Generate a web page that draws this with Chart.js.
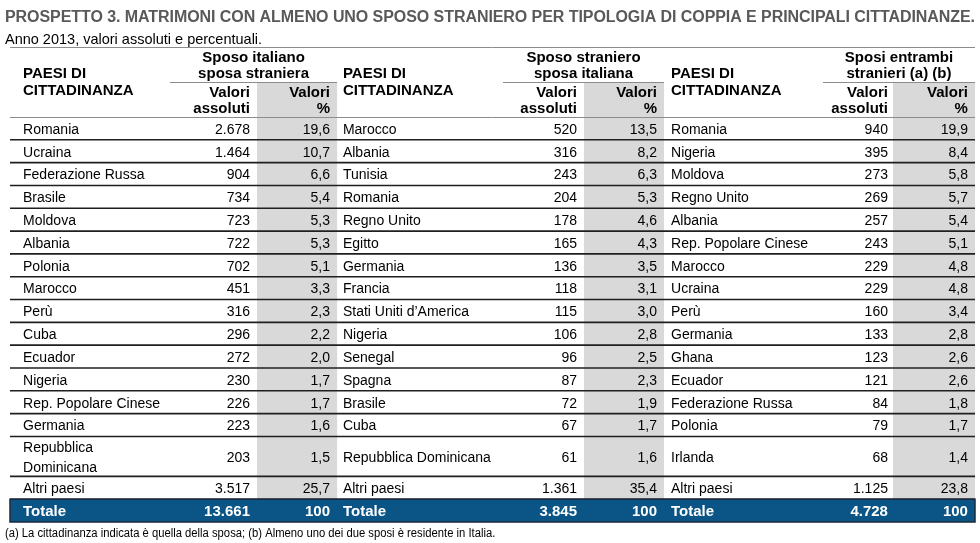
<!DOCTYPE html>
<html>
<head>
<meta charset="utf-8">
<script src="https://cdn.jsdelivr.net/npm/chart.js@4.4.0/dist/chart.umd.min.js"></script>
<style>
  html, body { margin: 0; padding: 0; background: #fff; }
  #wrap { width: 980px; height: 543px; }
</style>
</head>
<body>
<div id="wrap"><canvas id="chart"></canvas></div>
<script>
// dati del prospetto (Anno 2013)
const paesi1 = ["Romania", "Ucraina", "Federazione Russa", "Brasile", "Moldova", "Albania", "Polonia", "Marocco", "Perù", "Cuba", "Ecuador", "Nigeria", "Rep. Popolare Cinese", "Germania", "Repubblica Dominicana", "Altri paesi"];
const assoluti1 = [2678, 1464, 904, 734, 723, 722, 702, 451, 316, 296, 272, 230, 226, 223, 203, 3517];
const perc1 = [19.6, 10.7, 6.6, 5.4, 5.3, 5.3, 5.1, 3.3, 2.3, 2.2, 2.0, 1.7, 1.7, 1.6, 1.5, 25.7];

const paesi2 = ["Marocco", "Albania", "Tunisia", "Romania", "Regno Unito", "Egitto", "Germania", "Francia", "Stati Uniti d’America", "Nigeria", "Senegal", "Spagna", "Brasile", "Cuba", "Repubblica Dominicana", "Altri paesi"];
const assoluti2 = [520, 316, 243, 204, 178, 165, 136, 118, 115, 106, 96, 87, 72, 67, 61, 1361];
const perc2 = [13.5, 8.2, 6.3, 5.3, 4.6, 4.3, 3.5, 3.1, 3.0, 2.8, 2.5, 2.3, 1.9, 1.7, 1.6, 35.4];

const paesi3 = ["Romania", "Nigeria", "Moldova", "Regno Unito", "Albania", "Rep. Popolare Cinese", "Marocco", "Ucraina", "Perù", "Germania", "Ghana", "Ecuador", "Federazione Russa", "Polonia", "Irlanda", "Altri paesi"];
const assoluti3 = [940, 395, 273, 269, 257, 243, 229, 229, 160, 133, 123, 121, 84, 79, 68, 1125];
const perc3 = [19.9, 8.4, 5.8, 5.7, 5.4, 5.1, 4.8, 4.8, 3.4, 2.8, 2.6, 2.6, 1.8, 1.7, 1.4, 23.8];

const totaliAssoluti = [13661, 3845, 4728];
const totaliPerc = [100, 100, 100];

const titoliGruppi = [
  ["Sposo italiano", "sposa straniera"],
  ["Sposo straniero", "sposa italiana"],
  ["Sposi entrambi", "stranieri (a) (b)"]
];
const titolo = "PROSPETTO 3. MATRIMONI CON ALMENO UNO SPOSO STRANIERO PER TIPOLOGIA DI COPPIA E PRINCIPALI CITTADINANZE.";
const sottotitolo = "Anno 2013, valori assoluti e percentuali.";
const nota = "(a) La cittadinanza indicata è quella della sposa; (b) Almeno uno dei due sposi è residente in Italia.";

// impaginazione (unità dell'asse x: 0-100 = larghezza tabella)
const colonne = [
  { nome: 1.35, assL: 16.58, assR: 24.87, grigioL: 25.6, grigioR: 33.9, percR: 33.16 },
  { nome: 34.5, assL: 51.09, assR: 58.76, grigioL: 59.48, grigioR: 67.77, percR: 67.05 },
  { nome: 68.5, assL: 84.25, assR: 90.98, grigioL: 91.5, grigioR: 100, percR: 99.27 }
];
const LARG_TAB = 965;
const FONT = '"Liberation Sans", Arial, sans-serif';
const fCorpo = "14px " + FONT;
const fBold = "bold 15px " + FONT;
const DY = 1.5; // piccola correzione della linea di base "middle"

const fmtAss = n => n.toLocaleString("it-IT");
const fmtPerc = n => n.toLocaleString("it-IT", { minimumFractionDigits: 1, maximumFractionDigits: 1 });

// righe troppo lunghe vanno a capo (altezza 1.75)
const misura = document.createElement("canvas").getContext("2d");
misura.font = fCorpo;
const gruppi = [
  { paesi: paesi1, ass: assoluti1, perc: perc1 },
  { paesi: paesi2, ass: assoluti2, perc: perc2 },
  { paesi: paesi3, ass: assoluti3, perc: perc3 }
];
const maxNome = g => (colonne[g].assL - colonne[g].nome) * LARG_TAB / 100 - 6;
const spezza = (testo, g) => {
  if (misura.measureText(testo).width <= maxNome(g)) return [testo];
  const parole = testo.split(" ");
  const righe = [];
  let cur = "";
  parole.forEach(p => {
    const prova = cur ? cur + " " + p : p;
    if (cur && misura.measureText(prova).width > maxNome(g)) { righe.push(cur); cur = p; }
    else cur = prova;
  });
  righe.push(cur);
  return righe;
};
let inizio = 0;
const righe = paesi1.map((_, i) => {
  const testi = gruppi.map((gr, g) => spezza(gr.paesi[i], g));
  const alta = testi.some(t => t.length > 1);
  const r = { a: inizio, b: inizio + (alta ? 1.75 : 1), testi };
  inizio = r.b;
  return r;
});
const totale = { a: inizio, b: inizio + 1 };

const tabella = {
  id: "tabella",
  beforeDraw(chart) {
    const { ctx, scales: { x, y } } = chart;
    const X = v => x.getPixelForValue(v);
    const Y = v => y.getPixelForValue(v);
    const scrivi = (s, xx, yy, sx) => {
      if (!sx) { ctx.fillText(s, xx, yy + DY); return; }
      ctx.save();
      ctx.translate(xx, yy + DY);
      ctx.scale(sx, 1);
      ctx.fillText(s, 0, 0);
      ctx.restore();
    };
    ctx.save();
    ctx.fillStyle = "#fff";
    ctx.fillRect(0, 0, chart.width, chart.height);

    // colonne grigie dei valori percentuali
    ctx.fillStyle = "#d9d9d9";
    colonne.forEach(c => ctx.fillRect(X(c.grigioL), Y(-1.5), X(c.grigioR) - X(c.grigioL), Y(totale.a) - Y(-1.5)));

    // titolo
    ctx.textBaseline = "middle";
    ctx.textAlign = "left";
    ctx.fillStyle = "#595959";
    ctx.font = "bold 16px " + FONT;
    const w = ctx.measureText(titolo).width;
    ctx.letterSpacing = ((X(100) - X(-0.52) - w) / (titolo.length - 1)) + "px";
    scrivi(titolo, X(-0.52), Y(-4.42));
    ctx.letterSpacing = "0px";
    ctx.fillStyle = "#000";
    ctx.font = "14.5px " + FONT;
    scrivi(sottotitolo, X(-0.52), Y(-3.46));

    // linee intestazione
    ctx.strokeStyle = "#8c8c8c";
    ctx.lineWidth = 1;
    const linea = (x0, x1, yy) => { ctx.beginPath(); ctx.moveTo(x0, yy); ctx.lineTo(x1, yy); ctx.stroke(); };
    linea(X(0), X(100), Math.round(Y(-3.07)) + 0.5);
    linea(X(0), X(100), Math.round(Y(0)) + 0.5);
    colonne.forEach(c => linea(X(c.assL), X(c.grigioR), Math.round(Y(-1.53)) + 0.5));

    // testi intestazione
    ctx.fillStyle = "#000";
    ctx.font = fBold;
    colonne.forEach((c, g) => {
      ctx.textAlign = "left";
      scrivi("PAESI DI", X(c.nome), Y(-1.97));
      scrivi("CITTADINANZA", X(c.nome), Y(-1.23));
      ctx.textAlign = "center";
      const cx = (X(c.assL) + X(c.grigioR)) / 2;
      scrivi(titoliGruppi[g][0], cx, Y(-2.66));
      scrivi(titoliGruppi[g][1], cx, Y(-1.95));
      ctx.textAlign = "right";
      scrivi("Valori", X(c.assR), Y(-1.14));
      scrivi("assoluti", X(c.assR), Y(-0.44));
      scrivi("Valori", X(c.percR), Y(-1.14));
      scrivi("%", X(c.percR), Y(-0.44));
    });

    // righe dei paesi
    ctx.font = fCorpo;
    righe.forEach((r, i) => {
      const ym = Y((r.a + r.b) / 2);
      colonne.forEach((c, g) => {
        ctx.textAlign = "left";
        const t = r.testi[g];
        t.forEach((s, k) => scrivi(s, X(c.nome), ym + (k - (t.length - 1) / 2) * (Y(0.88) - Y(0))));
        ctx.textAlign = "right";
        scrivi(fmtAss(gruppi[g].ass[i]), X(c.assR), ym);
        scrivi(fmtPerc(gruppi[g].perc[i]), X(c.percR), ym);
      });
      ctx.strokeStyle = "#1f1f1f";
      ctx.lineWidth = 1.6;
      linea(X(0), X(100), Y(r.b));
    });

    // riga del totale
    ctx.fillStyle = "#0b5586";
    ctx.fillRect(X(0), Y(totale.a), X(100) - X(0), Y(totale.b) - Y(totale.a));
    ctx.strokeStyle = "#1b2a3a";
    ctx.lineWidth = 1.5;
    ctx.strokeRect(X(0), Y(totale.a), X(100) - X(0), Y(totale.b) - Y(totale.a));
    ctx.fillStyle = "#fff";
    ctx.font = "bold 15px " + FONT;
    const yt = Y((totale.a + totale.b) / 2);
    colonne.forEach((c, g) => {
      ctx.textAlign = "left";
      scrivi("Totale", X(c.nome), yt);
      ctx.textAlign = "right";
      scrivi(fmtAss(totaliAssoluti[g]), X(c.assR), yt);
      scrivi(String(totaliPerc[g]), X(c.percR), yt);
    });

    // nota
    ctx.fillStyle = "#000";
    ctx.font = "12.5px " + FONT;
    ctx.textAlign = "left";
    scrivi(nota, X(-0.52), Y(totale.b + 0.42), 0.9);
    ctx.restore();
  }
};

new Chart(document.getElementById("chart"), {
  type: "scatter",
  data: { datasets: [] },
  options: {
    responsive: true,
    maintainAspectRatio: false,
    animation: false,
    layout: { padding: { top: 117, bottom: 21, left: 10, right: 5 } },
    plugins: { legend: { display: false }, tooltip: { enabled: false } },
    scales: {
      x: { type: "linear", min: 0, max: 100, display: false },
      y: { type: "linear", min: 0, max: totale.b, reverse: true, display: false }
    }
  },
  plugins: [tabella]
});
</script>
</body>
</html>
